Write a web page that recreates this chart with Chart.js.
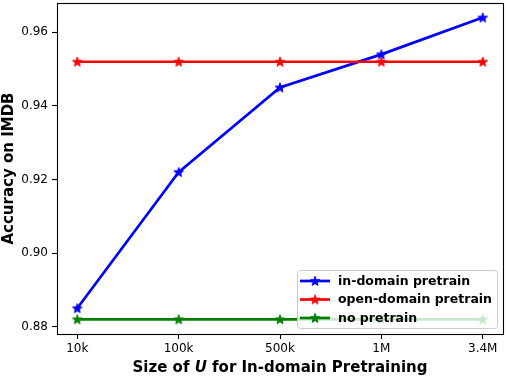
<!DOCTYPE html>
<html><head><meta charset="utf-8">
<script src="https://cdn.jsdelivr.net/npm/chart.js@4"></script>
<style>html,body{margin:0;padding:0;background:#fff}#w{width:506px;height:376px}</style>
</head><body><div id="w"><canvas id="c" width="506" height="376"></canvas></div>
<script>
const categories = ['10k', '100k', '500k', '1M', '3.4M'];
const inDomain = [0.885, 0.922, 0.945, 0.954, 0.964];
const openDomain = [0.952, 0.952, 0.952, 0.952, 0.952];
const noPretrain = [0.882, 0.882, 0.882, 0.882, 0.882];
const seriesNames = ['in-domain pretrain', 'open-domain pretrain', 'no pretrain'];
const seriesColors = ['#0000ff', '#ff0000', '#008000'];
const yTicks = [0.88, 0.90, 0.92, 0.94, 0.96];

const FONT = "'DejaVu Sans', sans-serif";

function starPath(ctx, cx, cy, R, r) {
  ctx.beginPath();
  for (let i = 0; i < 10; i++) {
    const rad = i % 2 === 0 ? R : r;
    const a = -Math.PI / 2 + i * Math.PI / 5;
    const x = cx + rad * Math.cos(a), y = cy + rad * Math.sin(a);
    if (i === 0) ctx.moveTo(x, y); else ctx.lineTo(x, y);
  }
  ctx.closePath();
}
function starCanvas(color) {
  const c = document.createElement('canvas');
  c.width = 14; c.height = 14;
  const g = c.getContext('2d');
  starPath(g, 7, 7.4, 5.0, 2.1);
  g.fillStyle = color; g.fill();
  g.lineWidth = 1; g.strokeStyle = color; g.stroke();
  return c;
}
const stars = seriesColors.map(starCanvas);

const toPts = arr => arr.map((v, i) => ({x: i, y: v}));
const allSeries = [inDomain, openDomain, noPretrain];

const datasets = allSeries.map((arr, k) => ({
  label: seriesNames[k],
  data: toPts(arr),
  borderColor: seriesColors[k],
  backgroundColor: seriesColors[k],
  borderWidth: 2.7,
  pointStyle: stars[k],
  pointRadius: 5,
  pointHoverRadius: 5,
  tension: 0,
  order: k === 0 ? 2 : (k === 1 ? 1 : 0)
}));

const framePlugin = {
  id: 'frame',
  afterDatasetsDraw(chart) {
    const ctx = chart.ctx, a = chart.chartArea;
    ctx.save();
    ctx.font = "bold 12.5px " + FONT;
    const tw = Math.max(...seriesNames.map(s => ctx.measureText(s).width));
    const right = a.right - 6, bottom = a.bottom - 6;
    const left = right - 5 - tw - 8 - 30 - 3;
    const top = bottom - 58;
    ctx.fillStyle = 'rgba(255,255,255,0.8)';
    ctx.strokeStyle = '#cccccc';
    ctx.lineWidth = 1;
    ctx.beginPath();
    if (ctx.roundRect) ctx.roundRect(left + 0.5, top + 0.5, right - left, bottom - top, 3);
    else ctx.rect(left + 0.5, top + 0.5, right - left, bottom - top);
    ctx.fill(); ctx.stroke();
    seriesNames.forEach((name, k) => {
      const y = top + 11 + k * 18.5;
      const x0 = left + 3;
      ctx.strokeStyle = seriesColors[k];
      ctx.lineWidth = 2.7;
      ctx.beginPath(); ctx.moveTo(x0, y); ctx.lineTo(x0 + 30, y); ctx.stroke();
      ctx.drawImage(stars[k], x0 + 15 - 7, y - 7);
      ctx.fillStyle = '#000';
      ctx.textBaseline = 'middle';
      ctx.textAlign = 'left';
      ctx.fillText(name, x0 + 38, y + 0.5);
    });
    ctx.restore();
  },
  afterDraw(chart) {
    const ctx = chart.ctx, a = chart.chartArea;
    ctx.save();
    ctx.strokeStyle = '#000';
    ctx.lineWidth = 1.1;
    ctx.strokeRect(Math.round(a.left) + 0.5, Math.round(a.top) + 0.5,
                   Math.round(a.right - a.left), Math.round(a.bottom - a.top));
    const parts = [
      ["bold 15px " + FONT, "Size of "],
      ["italic bold 15px " + FONT, "U"],
      ["bold 15px " + FONT, " for In-domain Pretraining"]
    ];
    let total = 0;
    parts.forEach(p => { ctx.font = p[0]; total += ctx.measureText(p[1]).width; });
    let x = (a.left + a.right) / 2 - total / 2;
    const y = 368;
    ctx.fillStyle = '#000';
    ctx.textBaseline = 'middle';
    ctx.textAlign = 'left';
    parts.forEach(p => { ctx.font = p[0]; ctx.fillText(p[1], x, y); x += ctx.measureText(p[1]).width; });
    ctx.restore();
  }
};

function zeroPad(s) { s.paddingTop = 0; s.paddingBottom = 0; s.paddingLeft = 0; s.paddingRight = 0; }

new Chart(document.getElementById('c'), {
  type: 'line',
  data: { datasets },
  options: {
    responsive: false,
    animation: false,
    events: [],
    layout: { autoPadding: false, padding: { top: 3, right: 3, left: 0, bottom: 0 } },
    plugins: { legend: { display: false }, tooltip: { enabled: false } },
    scales: {
      x: {
        type: 'linear',
        min: -0.2, max: 4.2,
        afterBuildTicks: s => { s.ticks = categories.map((_, i) => ({value: i})); },
        afterFit: s => { s.height = 42; zeroPad(s); },
        grid: { display: true, drawOnChartArea: false, drawTicks: true, tickLength: 5, color: '#000', tickWidth: 1.1 },
        border: { display: false },
        ticks: {
          color: '#000', padding: 3, maxRotation: 0, autoSkip: false,
          font: { family: FONT, size: 12 },
          callback: v => categories[v]
        }
      },
      y: {
        min: 0.87802, max: 0.96796,
        afterBuildTicks: s => { s.ticks = yTicks.map(v => ({value: v})); },
        afterFit: s => { s.width = 57; zeroPad(s); },
        grid: { display: true, drawOnChartArea: false, drawTicks: true, tickLength: 5, color: '#000', tickWidth: 1.1 },
        border: { display: false },
        title: { display: true, text: 'Accuracy on IMDB', color: '#000', padding: { top: 0, bottom: 0 },
                 font: { family: FONT, size: 15, weight: 'bold' } },
        ticks: {
          color: '#000', padding: 4,
          font: { family: FONT, size: 12 },
          callback: v => v.toFixed(2)
        }
      }
    }
  },
  plugins: [framePlugin]
});
</script>
</body></html>
